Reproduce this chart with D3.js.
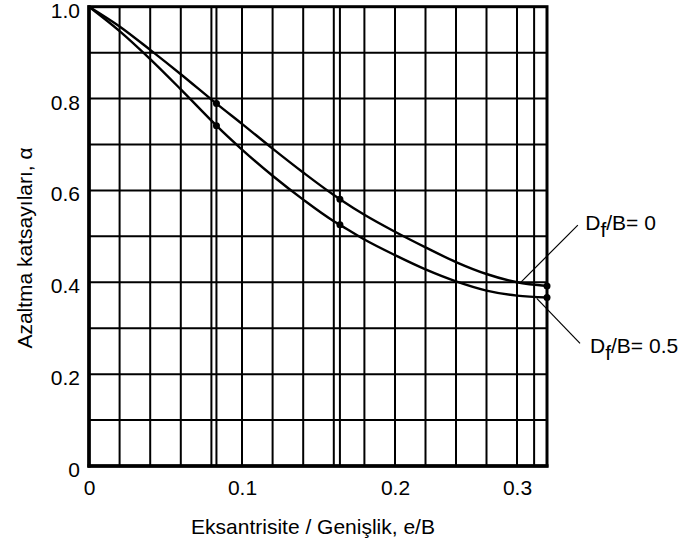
<!DOCTYPE html>
<html>
<head>
<meta charset="utf-8">
<script src="https://cdn.jsdelivr.net/npm/d3@7"></script>
<style>
    body { margin: 0; background: #fff; }
    svg { display: block; }
    text { font-family: "Liberation Sans", Arial, sans-serif; font-size: 21px; fill: #000; }
</style>
</head>
<body>
<svg width="683" height="546"></svg>
<script>
// e/B values shared by both curves
var eVals = [0, 0.02, 0.04, 0.06, 0.08, 0.0833, 0.10, 0.12, 0.14, 0.16, 0.164, 0.18, 0.20, 0.225, 0.25, 0.275, 0.30, 0.3333];
// Df/B = 0
var alphaDf0 = [1.0, 0.957, 0.906, 0.853, 0.798, 0.789, 0.745, 0.691, 0.639, 0.590, 0.581, 0.547, 0.510, 0.476, 0.444, 0.418, 0.400, 0.392];
// Df/B = 0.5
var alphaDf05 = [1.0, 0.947, 0.886, 0.820, 0.752, 0.741, 0.689, 0.632, 0.580, 0.533, 0.525, 0.493, 0.459, 0.428, 0.402, 0.382, 0.371, 0.367];
var dotE = [0.0833, 0.164, 0.3333];

// axis breaks (the printed axis is not uniform past 0.2)
var xBreaks = [0, 0.2, 0.3, 0.3333];
var xTickVals = [0, 0.1, 0.2, 0.3];
var xTickLabels = ["0", "0.1", "0.2", "0.3"];
var yTickVals = [0, 0.2, 0.4, 0.6, 0.8, 1.0];
var yTickLabels = ["0", "0.2", "0.4", "0.6", "0.8", "1.0"];

var xGrid = [0.02, 0.04, 0.06, 0.08, 0.10, 0.12, 0.14, 0.16, 0.18, 0.20, 0.225, 0.25, 0.275, 0.30, 0.319];
var xExtraLines = [0.0833, 0.164];
var yGrid = [0.1, 0.2, 0.3, 0.4, 0.5, 0.6, 0.7, 0.8, 0.9];

var seriesLabels = ["0", "0.5"];
// leader tip on each curve (e, alpha)
var leaderE = [0.3047, 0.3219];
var leaderA = [0.401, 0.365];

var svg = d3.select("svg");

var x = d3.scaleLinear().domain(xBreaks).range([89, 395, 517, 547]);
var y = d3.scaleLinear().domain([0, 1]).range([466, 6.7]);

// grid
svg.append("g").selectAll("line")
    .data(xGrid.concat(xExtraLines))
    .enter().append("line")
    .attr("x1", d => x(d)).attr("x2", d => x(d))
    .attr("y1", y(0)).attr("y2", y(1))
    .attr("stroke", "#000").attr("stroke-width", 2);

svg.append("g").selectAll("line")
    .data(yGrid)
    .enter().append("line")
    .attr("x1", x(0)).attr("x2", x(0.3333))
    .attr("y1", d => y(d)).attr("y2", d => y(d))
    .attr("stroke", "#000").attr("stroke-width", 2);

// frame
svg.append("rect")
    .attr("x", x(0)).attr("y", y(1))
    .attr("width", x(0.3333) - x(0)).attr("height", y(0) - y(1))
    .attr("fill", "none").attr("stroke", "#000").attr("stroke-width", 3);
svg.append("line")
    .attr("x1", x(0)).attr("x2", x(0)).attr("y1", y(1) - 1.5).attr("y2", y(0) + 1.5)
    .attr("stroke", "#000").attr("stroke-width", 3.5);
svg.append("line")
    .attr("x1", x(0) - 1.5).attr("x2", x(0.3333) + 1.5).attr("y1", y(0)).attr("y2", y(0))
    .attr("stroke", "#000").attr("stroke-width", 3.5);

// tick labels
var xAxis = svg.append("g")
    .attr("transform", "translate(0," + y(0) + ")")
    .call(d3.axisBottom(x).tickValues(xTickVals).tickSize(0).tickPadding(14)
        .tickFormat((d, i) => xTickLabels[i]));
xAxis.select(".domain").remove();
xAxis.selectAll("text").attr("font-size", 21).attr("font-family", "Liberation Sans, Arial, sans-serif");

var yAxis = svg.append("g")
    .attr("transform", "translate(" + x(0) + ",0)")
    .call(d3.axisLeft(y).tickValues(yTickVals).tickSize(0).tickPadding(9)
        .tickFormat((d, i) => yTickLabels[i]));
yAxis.select(".domain").remove();
yAxis.selectAll("text").attr("dy", "0.5em").attr("font-size", 21).attr("font-family", "Liberation Sans, Arial, sans-serif");

// curves
var line = d3.line()
    .x((d, i) => x(eVals[i]))
    .y(d => y(d))
    .curve(d3.curveMonotoneX);

[alphaDf0, alphaDf05].forEach(function (s) {
    svg.append("path")
        .attr("d", line(s))
        .attr("fill", "none")
        .attr("stroke", "#000")
        .attr("stroke-width", 2.4);

    svg.append("g").selectAll("circle")
        .data(dotE)
        .enter().append("circle")
        .attr("cx", d => x(d))
        .attr("cy", d => y(s[eVals.indexOf(d)]))
        .attr("r", 3.5)
        .attr("fill", "#000");
});

// leaders and labels
var offsets = [[56.6, -56.7], [43.3, 45]];
var textOffsets = [[64, -51.5], [53.3, 54.4]];
seriesLabels.forEach(function (lab, i) {
    var tx = x(leaderE[i]), ty = y(leaderA[i]);
    svg.append("line")
        .attr("x1", tx).attr("y1", ty)
        .attr("x2", tx + offsets[i][0]).attr("y2", ty + offsets[i][1])
        .attr("stroke", "#000").attr("stroke-width", 1.2);

    var t = svg.append("text")
        .attr("x", tx + textOffsets[i][0])
        .attr("y", ty + textOffsets[i][1]);
    t.append("tspan").text("D");
    t.append("tspan").attr("dy", 7).text("f");
    t.append("tspan").attr("dy", -7).text("/B= " + lab);
});

// axis titles
svg.append("text")
    .attr("x", 313).attr("y", 534)
    .attr("text-anchor", "middle")
    .text("Eksantrisite / Genişlik, e/B");

svg.append("text")
    .attr("transform", "translate(31.5,248) rotate(-90)")
    .attr("text-anchor", "middle")
    .text("Azaltma katsayıları, α");
</script>
</body>
</html>
